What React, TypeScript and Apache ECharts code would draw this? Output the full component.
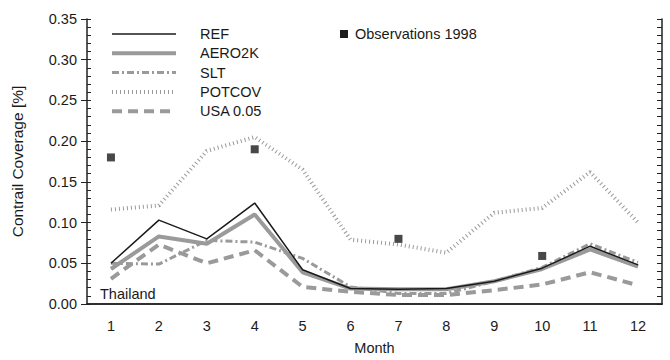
import React, { useEffect, useRef } from "react";
import * as echarts from "echarts";

const months = ["1", "2", "3", "4", "5", "6", "7", "8", "9", "10", "11", "12"];
const refData = [0.05, 0.103, 0.08, 0.124, 0.042, 0.019, 0.018, 0.019, 0.028, 0.044, 0.071, 0.048];
const aero2kData = [0.043, 0.083, 0.074, 0.11, 0.039, 0.019, 0.018, 0.018, 0.028, 0.043, 0.067, 0.046];
const sltData = [0.05, 0.049, 0.078, 0.076, 0.056, 0.021, 0.013, 0.013, 0.028, 0.045, 0.074, 0.051];
const potcovData = [0.116, 0.121, 0.188, 0.205, 0.165, 0.079, 0.073, 0.063, 0.112, 0.118, 0.162, 0.1];
const usaData = [0.031, 0.073, 0.05, 0.066, 0.021, 0.015, 0.011, 0.011, 0.017, 0.024, 0.039, 0.023];
const obsMonths = ["1", "4", "7", "10"];
const obsData = [0.18, 0.19, 0.08, 0.059];
const yTicks = { min: 0, max: 0.35, step: 0.05 };

const GRAY = "#9a9a9a";
const DARK = "#1a1a1a";
const FONT = "Liberation Sans";

const seriesDefs = [
  { name: "REF", data: refData, color: DARK, width: 1.5, dash: "solid" as any },
  { name: "AERO2K", data: aero2kData, color: GRAY, width: 4, dash: "solid" as any },
  { name: "SLT", data: sltData, color: GRAY, width: 3, dash: [7, 3, 2, 3] as any },
  { name: "POTCOV", data: potcovData, color: GRAY, width: 4, dash: [1, 3] as any },
  { name: "USA 0.05", data: usaData, color: GRAY, width: 4, dash: [10, 6] as any },
];
const obsName = "Observations 1998";

export default function App() {
  const ref = useRef<HTMLDivElement>(null);
  useEffect(() => {
    document.body.style.margin = "0";
    const chart = echarts.init(ref.current!, null, { renderer: "svg" });
    const axisColor = "#222";
    const legendGraphics: any[] = [];
    seriesDefs.forEach((s, i) => {
      const y = 34 + i * 19.3;
      legendGraphics.push({
        type: "line",
        shape: { x1: 112, y1: y, x2: 176, y2: y },
        style: {
          stroke: s.color,
          lineWidth: s.width,
          lineDash: s.dash === "solid" ? null : s.dash,
        },
      });
      legendGraphics.push({
        type: "text",
        x: 200,
        y: y,
        style: { text: s.name, fontSize: 14.5, fontFamily: FONT, fill: DARK, verticalAlign: "middle" },
      });
    });
    legendGraphics.push({
      type: "rect",
      shape: { x: 340, y: 30, width: 8, height: 8 },
      style: { fill: DARK },
    });
    legendGraphics.push({
      type: "text",
      x: 355,
      y: 34,
      style: { text: obsName, fontSize: 14.5, fontFamily: FONT, fill: DARK, verticalAlign: "middle" },
    });
    legendGraphics.push({
      type: "text",
      x: 100,
      y: 294,
      style: { text: "Thailand", fontSize: 14.5, fontFamily: FONT, fill: DARK, verticalAlign: "middle" },
    });

    const yBase = {
      type: "value",
      min: yTicks.min,
      max: yTicks.max,
      interval: yTicks.step,
      splitLine: { show: false },
    };

    chart.setOption({
      animation: false,
      grid: { left: 87, right: 8, top: 19, bottom: 52, containLabel: false },
      textStyle: { fontFamily: FONT },
      xAxis: [
        {
          type: "category",
          data: months,
          position: "bottom",
          boundaryGap: true,
          name: "Month",
          nameLocation: "middle",
          nameGap: 36,
          nameTextStyle: { fontSize: 14.5, color: DARK, fontFamily: FONT },
          axisLine: { lineStyle: { color: axisColor, width: 1.5 } },
          axisTick: { alignWithLabel: true, length: 6, lineStyle: { color: axisColor, width: 1 } },
          axisLabel: { fontSize: 14.5, color: DARK, margin: 14, fontFamily: FONT },
          splitLine: { show: false },
        },
        {
          type: "category",
          data: months,
          position: "top",
          boundaryGap: true,
          axisLine: { lineStyle: { color: axisColor, width: 1.5 } },
          axisTick: { alignWithLabel: true, length: 6, lineStyle: { color: axisColor, width: 1 } },
          axisLabel: { show: false },
          splitLine: { show: false },
        },
      ],
      yAxis: [
        {
          ...yBase,
          position: "left",
          name: "Contrail Coverage [%]",
          nameLocation: "middle",
          nameGap: 62,
          nameTextStyle: { fontSize: 15.5, color: DARK, fontFamily: FONT },
          axisLine: { show: true, lineStyle: { color: axisColor, width: 1.5 } },
          axisTick: { show: true, length: 6, lineStyle: { color: axisColor, width: 1 } },
          axisLabel: { fontSize: 14.5, color: DARK, margin: 10, fontFamily: FONT, formatter: (v: number) => v.toFixed(2) },
        },
        {
          ...yBase,
          position: "left",
          axisLine: { show: false },
          axisTick: { show: true, inside: true, length: 4, lineStyle: { color: axisColor, width: 1 } },
          minorTick: { show: true, splitNumber: 5, length: 4, lineStyle: { color: axisColor, width: 1 } },
          axisLabel: { show: false },
        },
        {
          ...yBase,
          position: "right",
          axisLine: { show: true, lineStyle: { color: axisColor, width: 1.5 } },
          axisTick: { show: true, inside: true, length: 5, lineStyle: { color: axisColor, width: 1 } },
          minorTick: { show: true, splitNumber: 5, length: 5, lineStyle: { color: axisColor, width: 1 } },
          axisLabel: { show: false },
        },
      ],
      graphic: legendGraphics,
      series: [
        ...seriesDefs.map((s) => ({
          name: s.name,
          type: "line",
          data: s.data,
          symbol: "none",
          lineStyle: { color: s.color, width: s.width, type: s.dash, cap: "butt" },
          z: s.name === "REF" ? 5 : 3,
        })),
        {
          name: obsName,
          type: "scatter",
          data: obsMonths.map((m, i) => [m, obsData[i]]),
          symbol: "rect",
          symbolSize: 8,
          itemStyle: { color: DARK },
          z: 6,
        },
      ],
    });
    return () => chart.dispose();
  }, []);
  return <div ref={ref} style={{ width: 670, height: 360 }} />;
}
